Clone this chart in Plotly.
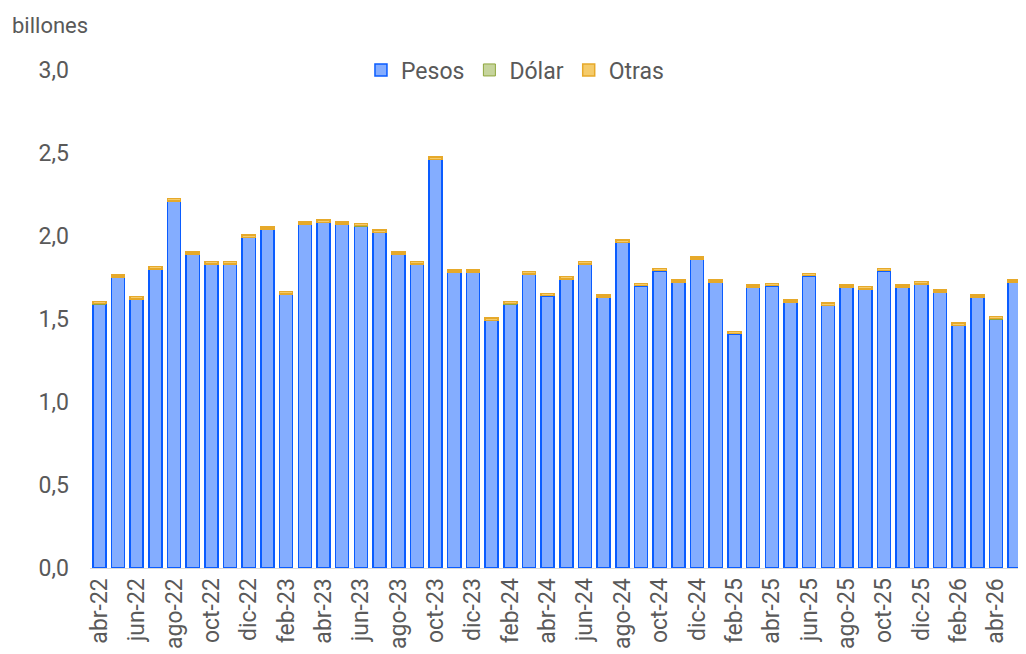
import plotly.graph_objects as go

months = ["abr-22","may-22","jun-22","jul-22","ago-22","sep-22","oct-22","nov-22","dic-22",
          "ene-23","feb-23","mar-23","abr-23","may-23","jun-23","jul-23","ago-23","sep-23","oct-23","nov-23","dic-23",
          "ene-24","feb-24","mar-24","abr-24","may-24","jun-24","jul-24","ago-24","sep-24","oct-24","nov-24","dic-24",
          "ene-25","feb-25","mar-25","abr-25","may-25","jun-25","jul-25","ago-25","sep-25","oct-25","nov-25","dic-25",
          "ene-26","feb-26","mar-26","abr-26","may-26"]

pesos = [1.59, 1.75, 1.62, 1.80, 2.21, 1.89, 1.83, 1.83, 1.99,
         2.04, 1.65, 2.07, 2.08, 2.07, 2.06, 2.02, 1.89, 1.83, 2.46, 1.78, 1.78,
         1.49, 1.59, 1.77, 1.64, 1.74, 1.83, 1.63, 1.96, 1.70, 1.79, 1.72, 1.86,
         1.72, 1.41, 1.69, 1.70, 1.60, 1.76, 1.58, 1.69, 1.68, 1.79, 1.69, 1.71,
         1.66, 1.46, 1.63, 1.50, 1.72]
dolar = [0.002] * 50
otras = [0.013] * 50

tick_labels = months[::2]

fig = go.Figure()
fig.add_trace(go.Bar(x=months, y=pesos, name="Pesos",
                     marker=dict(color="#84ADFF", line=dict(color="#0A5CFF", width=1.5))))
fig.add_trace(go.Bar(x=months, y=dolar, name="Dólar",
                     marker=dict(color="#C6D49C", line=dict(color="#8FA63E", width=1))))
fig.add_trace(go.Bar(x=months, y=otras, name="Otras",
                     marker=dict(color="#F5CB6A", line=dict(color="#E6A92A", width=1.5))))

fig.update_layout(
    width=1018, height=646,
    barmode="stack", bargap=0.3,
    separators=",.",
    paper_bgcolor="white", plot_bgcolor="white",
    margin=dict(l=82, r=2, t=62, b=86),
    font=dict(family="Roboto", size=23, color="#595959"),
    legend=dict(orientation="h", x=0.455, xanchor="center", y=1.0, yanchor="middle",
                font=dict(size=23, color="#595959"), traceorder="normal",
                itemwidth=30, bgcolor="rgba(0,0,0,0)"),
    xaxis=dict(type="category", tickmode="array", tickvals=tick_labels, ticktext=tick_labels,
               tickangle=-90, showline=True, linecolor="#D9D9D9", linewidth=1,
               ticks="", automargin=False, tickfont=dict(size=23, color="#595959")),
    yaxis=dict(range=[0, 3], dtick=0.5, tickformat=".1f", showgrid=False, zeroline=False,
               showline=False, ticks="", automargin=False, ticklabelstandoff=20,
               tickfont=dict(size=23, color="#595959")),
    annotations=[dict(text="billones", xref="paper", yref="paper", x=-0.0857, y=1.09,
                      xanchor="left", yanchor="middle", showarrow=False,
                      font=dict(size=22, color="#595959"))],
)

fig.write_html("out.html")
